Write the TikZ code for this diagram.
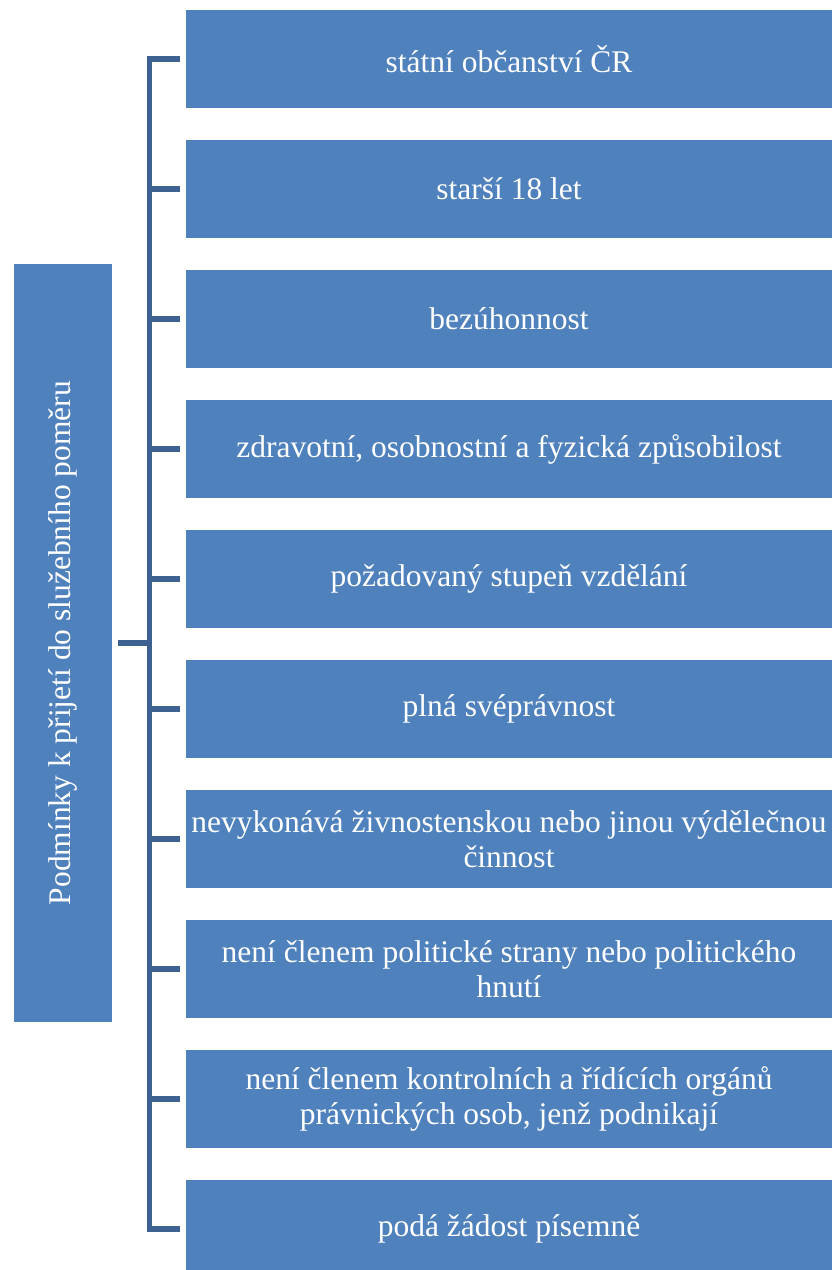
\documentclass[tikz,border=0pt]{standalone}
\usepackage{fontspec}
\setmainfont{Liberation Serif}
\usepackage{xcolor}
\usetikzlibrary{calc}
\definecolor{boxblue}{HTML}{4F81BD}
\definecolor{lineblue}{HTML}{3D6291}

\begin{document}
\begin{tikzpicture}[x=1pt, y=-1pt,
    item/.style={fill=boxblue, text=white, minimum width=646pt, minimum height=98pt,
        align=center, inner sep=0pt, font=\fontsize{31.5}{35}\selectfont},
    conn/.style={lineblue, line width=5.5pt}]
    \useasboundingbox (0,0) rectangle (835,1270);

    % Root box (rotated)
    \node[fill=boxblue, text=white, rotate=90, minimum width=758pt, minimum height=98pt,
        inner sep=0pt, font=\fontsize{31.5}{35}\selectfont] (root) at (63,643)
        {Podmínky k přijetí do služebního poměru};

    % Conditions
    \foreach \txt [count=\i] in {státní občanství ČR, starší 18 let, bezúhonnost,
        {zdravotní, osobnostní a fyzická způsobilost}, požadovaný stupeň vzdělání,
        plná svéprávnost, nevykonává živnostenskou nebo jinou výdělečnou\\činnost,
        není členem politické strany nebo politického\\hnutí,
        {není členem kontrolních a řídících orgánů\\právnických osob, jenž podnikají},
        podá žádost písemně}
        \node[item] (c\i) at (509, {59+130*(\i-1)}) {\txt};

    % Bracket
    \coordinate (hub) at (149.5,643);
    \draw[conn] ([xshift=-6pt]c1.west) -| (hub) |- ([xshift=-6pt]c10.west);
    \foreach \i in {2,...,9}
        \draw[conn] (c\i.west -| hub) -- ([xshift=-6pt]c\i.west);
    \draw[conn] ([xshift=6pt]root.south) -- (hub);
\end{tikzpicture}
\end{document}
